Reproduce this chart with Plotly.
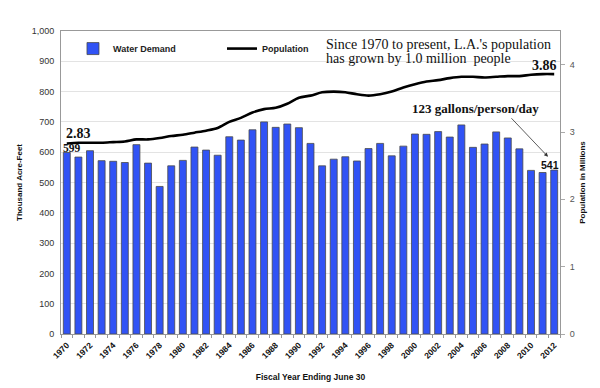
import plotly.graph_objects as go

years = list(range(1970, 2013))
water_demand = [599, 584, 605, 572, 570, 566, 625, 564, 487, 555,
                573, 617, 607, 590, 651, 640, 674, 700, 682, 693,
                681, 629, 555, 577, 585, 571, 612, 629, 588, 620,
                660, 659, 668, 650, 690, 616, 627, 667, 647, 611,
                540, 533, 541]
population = [2.83, 2.84, 2.84, 2.84, 2.85, 2.86, 2.89, 2.89, 2.91, 2.94,
              2.96, 2.99, 3.02, 3.06, 3.15, 3.21, 3.29, 3.34, 3.36, 3.42,
              3.51, 3.54, 3.59, 3.60, 3.59, 3.56, 3.54, 3.56, 3.60, 3.66,
              3.71, 3.75, 3.77, 3.80, 3.82, 3.82, 3.81, 3.82, 3.83, 3.83,
              3.85, 3.86, 3.86]
x_ticks = years[::2]
x_tick_text = [str(y) for y in x_ticks]
left_ticks = [0, 100, 200, 300, 400, 500, 600, 700, 800, 900, 1000]
left_tick_text = ["0", "100", "200", "300", "400", "500", "600", "700", "800", "900", "1,000"]
right_ticks = [0, 1, 2, 3, 4]
boundary_ticks = [y - 0.5 for y in years] + [years[-1] + 0.5]

SANS = "Liberation Sans, Arial, sans-serif"
SERIF = "Liberation Serif, Times New Roman, serif"

fig = go.Figure()
fig.add_trace(go.Bar(
    x=years, y=water_demand, name="Water Demand",
    marker=dict(color="#3153F5", line=dict(color="#4a4a4a", width=0.8)),
))
fig.add_trace(go.Scatter(
    x=years, y=population, name="Population", yaxis="y2", mode="lines",
    line=dict(color="black", width=2.6, shape="spline", smoothing=0.8),
))

ann = []
ann.append(dict(x=0.527, y=0.987, xref="paper", yref="paper", xanchor="left", yanchor="top",
                text="Since 1970 to present, L.A.'s population", showarrow=False,
                font=dict(family=SERIF, size=14, color="#111")))
ann.append(dict(x=0.527, y=0.941, xref="paper", yref="paper", xanchor="left", yanchor="top",
                text="has grown by 1.0 million  people", showarrow=False,
                font=dict(family=SERIF, size=14, color="#111")))
ann.append(dict(x=years[0], y=population[0], xref="x", yref="y2", xanchor="left", yanchor="bottom",
                xshift=-3, yshift=0, text="<b>2.83</b>", showarrow=False,
                font=dict(family=SERIF, size=14, color="#111")))
ann.append(dict(x=years[0], y=water_demand[0], xref="x", yref="y", xanchor="left", yanchor="middle",
                xshift=-6, yshift=5, text="<b>599</b>", showarrow=False,
                font=dict(family=SERIF, size=11.5, color="#111")))
ann.append(dict(x=years[-1], y=population[-1], xref="x", yref="y2", xanchor="right", yanchor="bottom",
                xshift=5, yshift=-1, text="<b>3.86</b>", showarrow=False,
                font=dict(family=SERIF, size=14, color="#111")))
ann.append(dict(x=years[-1], y=water_demand[-1], xref="x", yref="y", xanchor="right", yanchor="bottom",
                xshift=7, yshift=-3, text="<b>541</b>", showarrow=False,
                font=dict(family=SANS, size=10.5, color="#111")))
ann.append(dict(x=0.831, y=0.745, xref="paper", yref="paper", xanchor="center", yanchor="middle",
                text="<b>123 gallons/person/day</b>", showarrow=False,
                font=dict(family=SERIF, size=13, color="#111")))
ann.append(dict(x=0.976, y=0.585, xref="paper", yref="paper", ax=-38, ay=-40, axref="pixel", ayref="pixel",
                text="", showarrow=True, arrowhead=2, arrowsize=1, arrowwidth=0.8, arrowcolor="#333"))

fig.update_layout(
    width=600, height=388,
    margin=dict(l=53, r=48, t=23, b=62, autoexpand=False),
    paper_bgcolor="white", plot_bgcolor="white",
    bargap=0.4,
    showlegend=True,
    legend=dict(orientation="h", x=0.024, y=0.942, xanchor="left", yanchor="middle",
                font=dict(family=SANS, size=9, color="#222", weight="bold"),
                entrywidth=104, entrywidthmode="pixels", bgcolor="rgba(0,0,0,0)",
                itemwidth=30),
    xaxis=dict(
        range=[1969.5, 2012.5], automargin=False,
        tickmode="array", tickvals=x_ticks, ticktext=x_tick_text, tickangle=-45,
        tickfont=dict(family=SANS, size=8.5, color="#111", weight="bold"),
        showline=True, linecolor="#999", linewidth=1, mirror=True,
        showgrid=False, zeroline=False, ticks="", ticklabelstandoff=2,
        minor=dict(tickmode="array", tickvals=boundary_ticks, ticks="outside", ticklen=3,
                   tickcolor="#999", showgrid=False),
        title=dict(text="Fiscal Year Ending June 30", standoff=14,
                   font=dict(family=SANS, size=8.5, color="#111", weight="bold")),
    ),
    yaxis=dict(
        range=[0, 1000], automargin=False, tickmode="array", tickvals=left_ticks, ticktext=left_tick_text,
        tickfont=dict(family=SANS, size=9, color="#333"),
        showline=True, linecolor="#999", linewidth=1, mirror=True,
        showgrid=True, gridcolor="#e3e3e3", gridwidth=1, zeroline=False,
        ticklabelstandoff=4,
        title=dict(text="Thousand Acre-Feet", standoff=7,
                   font=dict(family=SANS, size=8, color="#111", weight="bold")),
    ),
    yaxis2=dict(
        overlaying="y", side="right", range=[0, 4.5], automargin=False, tickmode="array", tickvals=right_ticks,
        tickfont=dict(family=SANS, size=9, color="#555"),
        showgrid=False, zeroline=False, showline=False,
        ticks="outside", ticklen=4, tickcolor="#aaa", ticklabelstandoff=3,
        title=dict(text="Population in Millions", standoff=5,
                   font=dict(family=SANS, size=8, color="#111", weight="bold")),
    ),
    annotations=ann,
)

fig.write_html("out.html")
